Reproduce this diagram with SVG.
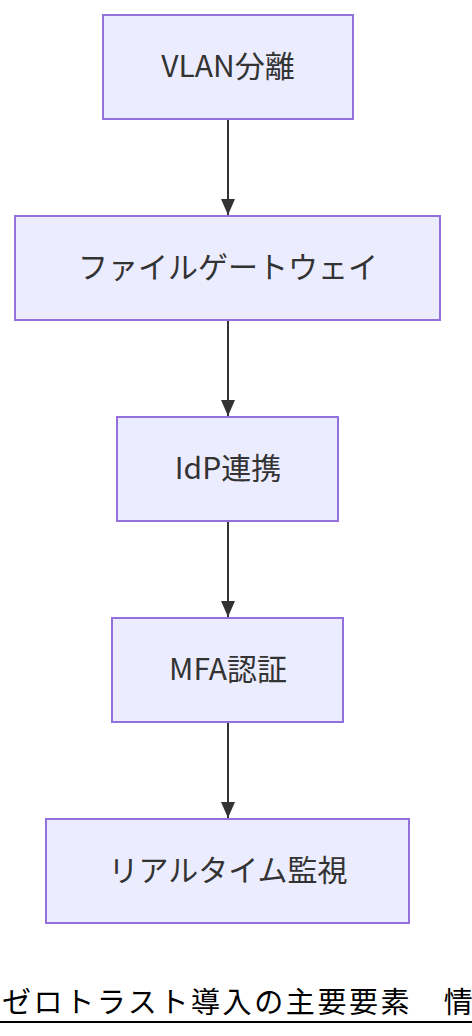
<svg xmlns="http://www.w3.org/2000/svg" width="472" height="1036" viewBox="0 0 472 1036">
<style>
.node rect{fill:#ECECFF;stroke:#9370DB;stroke-width:2}
.node text{font-family:"Noto Sans CJK JP","Noto Sans",sans-serif;font-size:30px;fill:#333;text-anchor:middle;dominant-baseline:central}
.edge{stroke:#333;stroke-width:2;fill:none}
.title{font-family:"Noto Sans CJK JP",sans-serif;font-size:29px;font-weight:400;letter-spacing:2.6px;fill:#000}
</style>
<defs>
<marker id="ah" viewBox="0 0 16 14" refX="16" refY="7" markerWidth="16" markerHeight="14" markerUnits="userSpaceOnUse" orient="auto">
<path d="M0,0 L16,7 L0,14 z" fill="#333"/>
</marker>
</defs>
<rect width="472" height="1036" fill="#fff"/>
<g id="connectors">
<line class="edge" x1="228" y1="120" x2="228" y2="215" marker-end="url(#ah)"/>
<line class="edge" x1="228" y1="321" x2="228" y2="416" marker-end="url(#ah)"/>
<line class="edge" x1="228" y1="522" x2="228" y2="617" marker-end="url(#ah)"/>
<line class="edge" x1="228" y1="723" x2="228" y2="818" marker-end="url(#ah)"/>
</g>
<g id="n1" class="node"><rect x="103" y="15" width="250" height="104"/><text x="228" y="64">VLAN分離</text></g>
<g id="n2" class="node"><rect x="15" y="216" width="425" height="104"/><text x="228" y="265">ファイルゲートウェイ</text></g>
<g id="n3" class="node"><rect x="117" y="417" width="221" height="104"/><text x="228" y="466">IdP連携</text></g>
<g id="n4" class="node"><rect x="112" y="618" width="231" height="104"/><text x="228" y="667">MFA認証</text></g>
<g id="n5" class="node"><rect x="46" y="819" width="363" height="104"/><text x="228" y="868">リアルタイム監視</text></g>
<g id="title">
<text class="title" x="2" y="1013">ゼロトラスト導入の主要要素　情</text>
<line x1="0" y1="1022" x2="472" y2="1022" stroke="#000" stroke-width="2"/>
</g>
</svg>
